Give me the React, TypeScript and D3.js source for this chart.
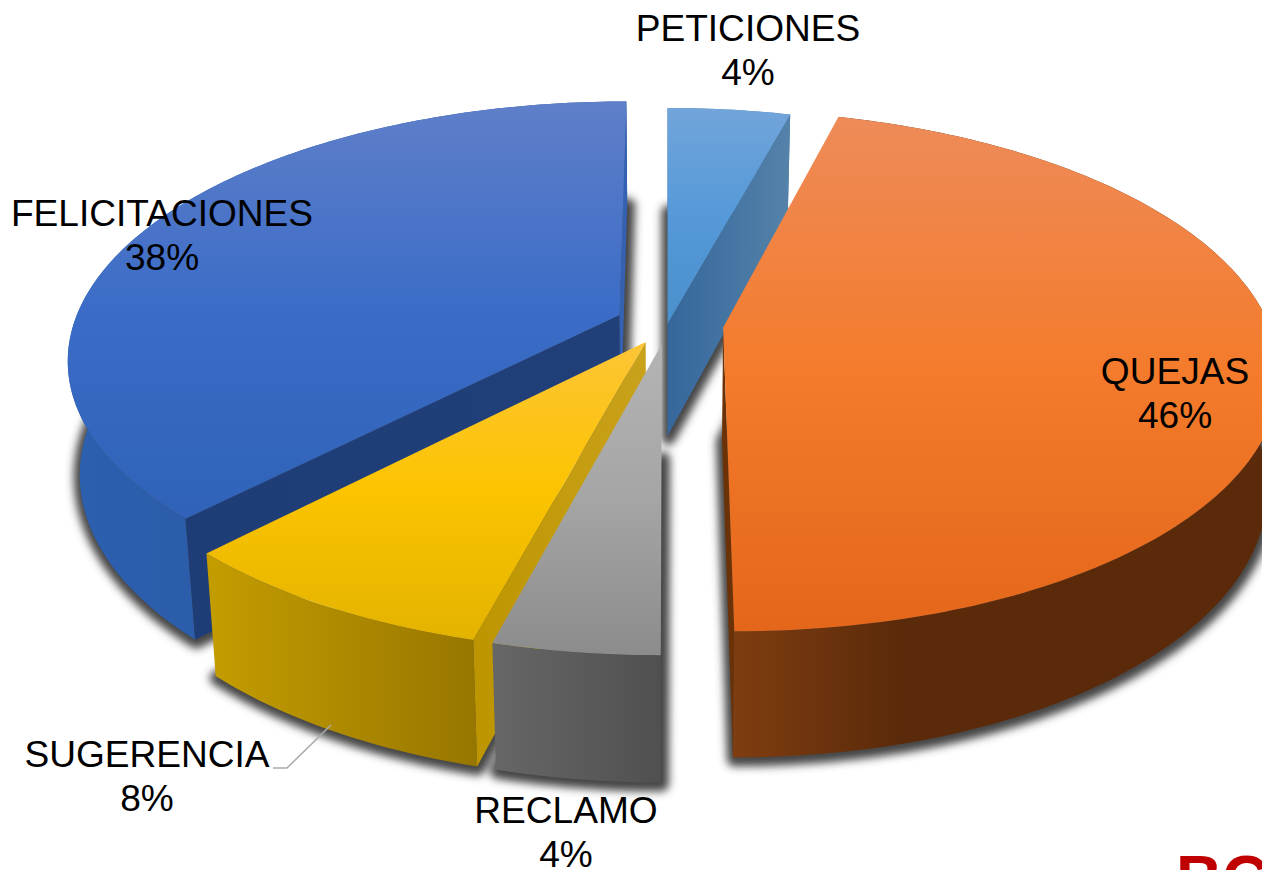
import React from "react";
import * as d3 from "d3";

const categories = ["PETICIONES", "QUEJAS", "RECLAMO", "SUGERENCIA", "FELICITACIONES"];
const shares = [4.2, 45.8, 4.1, 8.1, 37.8];
// how far each slice is pulled out of the pie
const explode = [0, 56, 43, 44, 52];

const topStops = [
  ["#72a5da", "#5599d8", "#4a90cc"],
  ["#ee8b59", "#f47b2b", "#e4661a"],
  ["#b4b4b4", "#a5a5a5", "#8c8c8c"],
  ["#fdc536", "#fcc400", "#e3b300"],
  ["#5f7fc9", "#3b6cc7", "#2f62b8"],
];
const wallStops = [
  ["#4a7cae", "#4a7cae"],
  ["#7f3d10", "#5a2a0a"],
  ["#666666", "#505050"],
  ["#c39c00", "#977600"],
  ["#2c5fae", "#28549e"],
];
// colours of the cut faces that can be seen, left to right; null = faces away
const cutStart = [null, null, null, ["#bd9500", "#c9a21c"], ["#1e3c76", "#214079"]];
const cutEnd = [["#35679c", "#5482a9"], ["#6b3208", "#6b3208"], null, null, ["#3561b2", "#3561b2"]];

const width = 1262;
const height = 870;
const cx = 667.5;
const cy = 324;
const R = 546;
const vScale = 0.4615;
const k = 6;
const drop = 112;
const bottomX = 0.98;
const bottomY = 1.046;

const labelFont = "'Liberation Sans', Arial, sans-serif";
const pct = d3.format(".0f");

// world coords on the pie plane -> screen, with the perspective shrink towards the back
function project(X: number, Z: number, bottom: boolean): [number, number] {
  const s = k / (k + Z / R);
  if (bottom) return [cx + X * s * bottomX, cy + drop - Z * vScale * s * bottomY];
  return [cx + X * s, cy - Z * vScale * s];
}

const pie = d3.pie<number>().sort(null).startAngle(0).endAngle(2 * Math.PI);
const arcs = pie(shares);
const line = d3.line();

const slices = arcs.map((a, i) => {
  const mid = (a.startAngle + a.endAngle) / 2;
  const ox = explode[i] * Math.sin(mid);
  const oz = explode[i] * Math.cos(mid);
  const n = Math.max(8, Math.round(((a.endAngle - a.startAngle) * 180) / Math.PI));
  const angles = d3.range(n + 1).map((j) => a.startAngle + ((a.endAngle - a.startAngle) * j) / n);
  const rim = (bottom: boolean) =>
    angles.map((t) => project(ox + R * Math.sin(t), oz + R * Math.cos(t), bottom));
  const apexTop = project(ox, oz, false);
  const apexBottom = project(ox, oz, true);
  const rimTop = rim(false);
  const rimBottom = rim(true);
  const close = (pts: [number, number][]) => line(pts) + "Z";
  return {
    top: close([apexTop, ...rimTop]),
    floor: close([apexBottom, ...rimBottom]),
    wall: close([...rimTop, ...[...rimBottom].reverse()]),
    startCut: close([apexTop, rimTop[0], rimBottom[0], apexBottom]),
    endCut: close([apexTop, rimTop[n], rimBottom[n], apexBottom]),
    yTop: d3.extent([apexTop, ...rimTop], (p) => p[1]) as [number, number],
    xWall: d3.extent(rimBottom, (p) => p[0]) as [number, number],
    xStart: d3.extent([apexTop, rimTop[0], apexBottom], (p) => p[0]) as [number, number],
    xEnd: d3.extent([apexTop, rimTop[n], apexBottom], (p) => p[0]) as [number, number],
  };
});

// back to front
const drawOrder = [0, 4, 1, 3, 2];

const labelSpots = [
  { x: 748, y: 41 },
  { x: 1175, y: 384 },
  { x: 566, y: 823 },
  { x: 147, y: 767 },
  { x: 162, y: 226 },
];

const cutGradient = (id: string, stops: string[] | null, xs: [number, number]) =>
  stops && (
    <linearGradient id={id} gradientUnits="userSpaceOnUse" x1={xs[0]} x2={xs[1]} y1="0" y2="0">
      <stop offset="0" stopColor={stops[0]} />
      <stop offset="1" stopColor={stops[1]} />
    </linearGradient>
  );

export default function App() {
  return (
    <svg
      width={width}
      height={height}
      viewBox={`0 0 ${width} ${height}`}
      style={{ position: "absolute", left: 0, top: 0, display: "block", background: "#fff" }}
    >
      <defs>
        <filter id="soft" x="-20%" y="-20%" width="140%" height="140%">
          <feGaussianBlur stdDeviation="4" />
        </filter>
        {slices.map((s, i) => (
          <React.Fragment key={i}>
            <linearGradient id={`top${i}`} gradientUnits="userSpaceOnUse" x1="0" x2="0" y1={s.yTop[0]} y2={s.yTop[1]}>
              <stop offset="0" stopColor={topStops[i][0]} />
              <stop offset="0.5" stopColor={topStops[i][1]} />
              <stop offset="1" stopColor={topStops[i][2]} />
            </linearGradient>
            <linearGradient id={`wall${i}`} gradientUnits="userSpaceOnUse" x1={s.xWall[0]} x2={i === 1 ? s.xWall[0] + 170 : s.xWall[1]} y1="0" y2="0">
              <stop offset="0" stopColor={wallStops[i][0]} />
              <stop offset="1" stopColor={wallStops[i][1]} />
            </linearGradient>
            {cutGradient(`cutS${i}`, cutStart[i], s.xStart)}
            {cutGradient(`cutE${i}`, cutEnd[i], s.xEnd)}
          </React.Fragment>
        ))}
      </defs>

      <g filter="url(#soft)" transform="translate(1,2)">
        {slices.map((s, i) => (
          <path key={i} d={s.floor} fill="#444" stroke="#444" strokeWidth={14} strokeLinejoin="round" />
        ))}
      </g>

      {drawOrder.map((i) => {
        const s = slices[i];
        return (
          <g key={i}>
            <path d={s.wall} fill={`url(#wall${i})`} />
            {cutStart[i] && <path d={s.startCut} fill={`url(#cutS${i})`} />}
            {cutEnd[i] && <path d={s.endCut} fill={`url(#cutE${i})`} />}
            <path d={s.top} fill={`url(#top${i})`} />
          </g>
        );
      })}

      {/* leader for SUGERENCIA */}
      <path d="M273,768H287L331,725" fill="none" stroke="#aaaaaa" strokeWidth={1.5} />

      <g fontFamily={labelFont} fontSize={37.1} fill="#000" textAnchor="middle">
        {categories.map((c, i) => (
          <text key={c}>
            <tspan x={labelSpots[i].x} y={labelSpots[i].y}>{c}</tspan>
            <tspan x={labelSpots[i].x} y={labelSpots[i].y + 44}>{pct(shares[i])}%</tspan>
          </text>
        ))}
      </g>

      <text x={1176} y={901} fontFamily={labelFont} fontWeight="bold" fontSize={64} fill="#c00000">
        BC
      </text>
    </svg>
  );
}
